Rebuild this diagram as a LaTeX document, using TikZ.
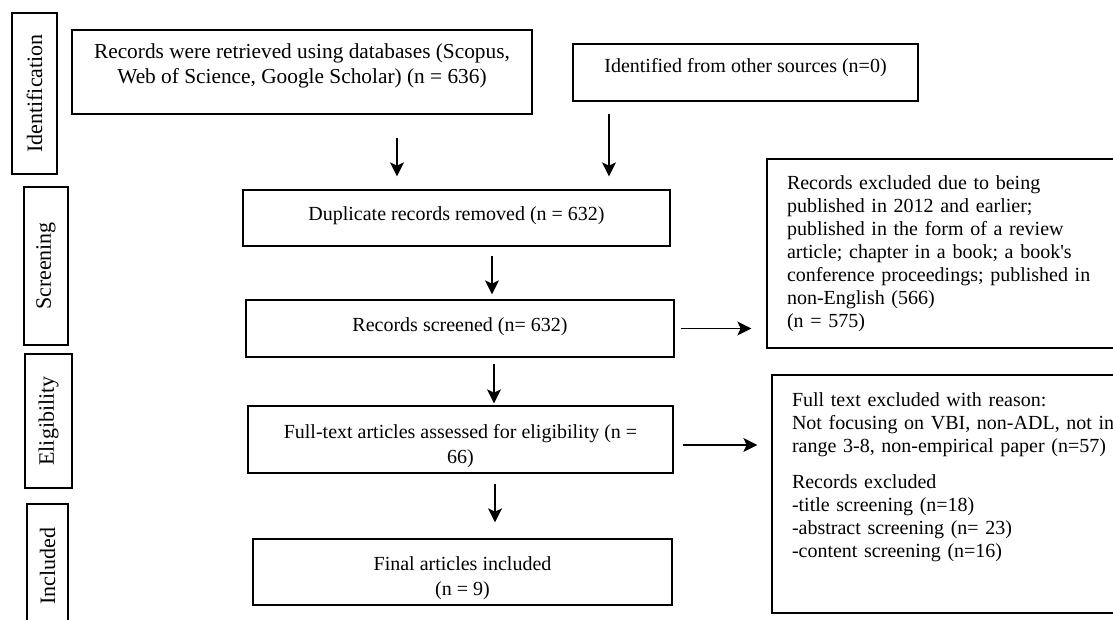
\documentclass[tikz,border=0pt]{standalone}
\usepackage{fontspec}
\setmainfont{Liberation Serif}
\usepackage{tikz}
\usetikzlibrary{arrows.meta}

\tikzset{
	box/.style = {draw, line width = 1pt, inner sep = 0pt, align = center,
		font = \fontsize{15}{18.75}\selectfont},
	note/.style = {draw, line width = 1pt, inner xsep = 15pt, inner ysep = 0pt, align = left,
		font = \fontsize{15}{17.25}\selectfont},
	side/.style = {draw, line width = 1.6pt, inner sep = 0pt, rotate = 90,
		font = \fontsize{16.5}{19}\selectfont},
	arr/.style = {-{Stealth[length = 10.5pt, width = 10.5pt, inset = 2.5pt]}, line width = 1pt}
}

\begin{document}
\begin{tikzpicture}[x = .75pt, y = -.75pt]
	\useasboundingbox (0,0) rectangle (1113,620);
	% stages
	\node[side, minimum width = 120.75pt, minimum height = 33.75pt] (ident) at (34.5,93.5) {Identification};
	\node[side, minimum width = 118.5pt, minimum height = 33pt] (screen) at (46,266) {Screening};
	\node[side, minimum width = 100.5pt, minimum height = 35.25pt] (elig) at (48.5,421) {Eligibility};
	\node[side, minimum width = 93pt, minimum height = 30.75pt] (incl) at (47.5,566) {Included};
	% main flow
	\node[box, minimum width = 345pt, minimum height = 63pt, font = \fontsize{16}{18.75}\selectfont] (retr) at (302,72)
		{Records were retrieved using databases (Scopus,\\ Web of Science, Google Scholar) (n = 636)\rule[-13pt]{0pt}{13pt}};
	\node[box, minimum width = 258.75pt, minimum height = 42.75pt, text depth = 11pt] (other) at (745.5,72.5)
		{Identified from other sources (n=0)};
	\node[box, minimum width = 320.25pt, minimum height = 42pt, text depth = 7pt] (dup) at (456.5,218)
		{Duplicate records removed (n = 632)};
	\node[box, minimum width = 321pt, minimum height = 42.75pt, text depth = 6pt] (scr) at (460,328.5)
		{Records screened (n= 632)};
	\node[box, minimum width = 318.75pt, minimum height = 50.25pt] (full) at (460.5,439.5)
		{\rule{0pt}{21pt}Full-text articles assessed for eligibility (n =\\ 66)};
	\node[box, minimum width = 314.25pt, minimum height = 49.5pt] (final) at (462.5,572)
		{\rule{0pt}{19pt}Final articles included\\ (n = 9)};
	% exclusions
	\node[note, text width = 257.25pt, minimum height = 141.75pt] (excl1) at (958.5,253.5)
		{Records excluded due to being\\
		published in 2012 and earlier;\\
		published in the form of a review\\
		article; chapter in a book; a book\textquotesingle s\\
		conference proceedings; published in\\
		non-English (566)\\
		(n = 575)};
	\node[note, text width = 253.5pt, minimum height = 178.5pt] (excl2) at (961,494)
		{Full text excluded with reason:\\
		Not focusing on VBI, non-ADL, not in\\
		range 3-8, non-empirical paper (n=57)\\[9.75pt]
		Records excluded\\
		-title screening (n=18)\\
		-abstract screening (n= 23)\\
		-content screening (n=16)\rule[-29pt]{0pt}{29pt}};
	% arrows
	\draw[arr, shorten <= 17.25pt, shorten >= 9.75pt] ([xshift = 71.25pt]retr.south) -- ([xshift = 71.25pt]retr.south |- dup.north);
	\draw[arr, shorten <= 9pt, shorten >= 9.75pt] ([xshift = -102.4pt]other.south) -- ([xshift = -102.4pt]other.south |- dup.north);
	\draw[arr, shorten <= 6.75pt, shorten >= 3.75pt] ([xshift = 26.6pt]dup.south) -- ([xshift = 26.6pt]dup.south |- scr.north);
	\draw[arr, shorten <= 4.5pt, shorten >= 1.5pt] ([xshift = 25.5pt]scr.south) -- ([xshift = 25.5pt]scr.south |- full.north);
	\draw[arr, shorten <= 7.5pt, shorten >= 12pt] ([xshift = 25.9pt]full.south) -- ([xshift = 25.9pt]full.south |- final.north);
	\draw[arr, shorten <= 4.5pt, shorten >= 11.25pt] (scr.east) -- (scr.east -| excl1.west);
	\draw[arr, shorten <= 6.75pt, shorten >= 10.5pt] ([yshift = -4.1pt]full.east) -- ([yshift = -4.1pt]full.east -| excl2.west);
\end{tikzpicture}
\end{document}
